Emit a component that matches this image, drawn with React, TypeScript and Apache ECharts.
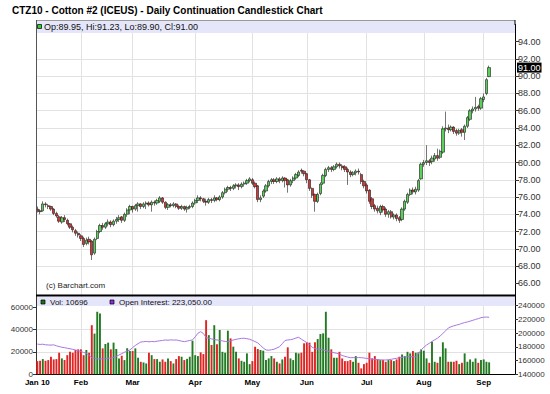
import React, { useEffect, useRef } from "react";
import * as echarts from "echarts";

// ---------- data ----------
const START_DATE = "2010-01-07";
const HOLIDAYS = ["2010-01-18", "2010-02-15", "2010-04-02", "2010-05-31", "2010-07-05", "2010-09-06"];
const TOTAL_SLOTS = 176; // trading days + empty space on the right
const MONTHS = ["Jan", "Feb", "Mar", "Apr", "May", "Jun", "Jul", "Aug", "Sep", "Oct", "Nov", "Dec"];

// [open, close, low, high]
const ohlc: number[][] = [
  [74.6, 74.4, 74.2, 74.9], [74.4, 74.3, 74.0, 74.6], [74.4, 75.2, 74.3, 75.5], [75.2, 75.1, 74.8, 75.4],
  [75.0, 74.9, 74.6, 75.2], [74.9, 74.6, 74.4, 75.0], [74.6, 74.1, 73.9, 74.7], [74.1, 73.8, 73.6, 74.3],
  [73.7, 73.2, 73.0, 73.9], [73.1, 73.6, 72.9, 73.8], [73.6, 73.4, 73.1, 73.9], [73.3, 72.9, 72.7, 73.5],
  [72.9, 72.5, 72.3, 73.0], [72.5, 72.2, 71.9, 72.7], [72.1, 71.8, 71.5, 72.3], [71.8, 71.6, 71.3, 72.0],
  [71.5, 71.2, 70.9, 71.7], [71.2, 70.5, 70.2, 71.4], [70.6, 71.0, 70.4, 71.3], [71.1, 70.8, 70.5, 71.4],
  [70.9, 69.3, 68.7, 71.0], [69.5, 71.1, 69.3, 71.3], [71.2, 72.0, 71.0, 72.2], [72.0, 72.7, 71.8, 72.9],
  [72.7, 72.5, 72.2, 73.0], [72.5, 72.9, 72.3, 73.1], [72.9, 73.1, 72.6, 73.4], [73.1, 72.8, 72.5, 73.3],
  [72.8, 73.2, 72.6, 73.4], [73.2, 73.4, 72.9, 73.7], [73.4, 73.6, 73.1, 73.9], [73.7, 73.3, 73.0, 73.8],
  [73.3, 74.0, 73.1, 74.2], [74.0, 74.5, 73.7, 74.7], [74.5, 74.9, 74.0, 75.1], [74.9, 74.6, 74.2, 75.0],
  [74.6, 75.0, 74.4, 75.2], [75.0, 75.2, 74.3, 75.4], [75.2, 74.9, 74.6, 75.3], [74.9, 75.2, 74.7, 75.4],
  [75.2, 75.3, 74.6, 75.5], [75.3, 75.1, 74.9, 75.5], [75.1, 75.4, 74.3, 75.6], [75.4, 75.3, 75.0, 75.6],
  [75.3, 75.6, 75.1, 75.8], [75.5, 75.9, 75.3, 76.1], [75.9, 75.4, 75.2, 76.0], [75.4, 74.8, 74.6, 75.5],
  [74.8, 75.1, 74.5, 75.3], [75.1, 75.0, 74.8, 75.3], [75.0, 75.2, 74.8, 75.4], [75.2, 74.9, 74.7, 75.3],
  [74.9, 74.7, 74.5, 75.1], [74.7, 74.9, 74.5, 75.1], [74.9, 74.6, 74.4, 75.0], [74.6, 74.8, 74.2, 75.0],
  [74.8, 74.9, 74.6, 75.1], [74.9, 75.3, 74.7, 75.5], [75.3, 75.6, 75.1, 75.8], [75.6, 75.9, 75.3, 76.2],
  [75.9, 75.8, 75.5, 76.1], [75.8, 75.5, 75.3, 75.9], [75.5, 75.4, 75.0, 75.8], [75.4, 75.7, 75.2, 75.9],
  [75.7, 75.6, 75.3, 75.9], [75.6, 75.9, 75.4, 76.2], [75.9, 75.7, 75.5, 76.0], [75.7, 76.0, 75.5, 76.2],
  [76.0, 76.5, 75.8, 76.7], [76.5, 76.9, 76.3, 77.1], [76.9, 77.1, 76.6, 77.3], [77.1, 77.0, 76.7, 77.3],
  [77.0, 77.3, 76.8, 77.5], [77.3, 77.4, 77.0, 77.6], [77.4, 77.2, 76.8, 77.6], [77.2, 77.5, 77.0, 77.7],
  [77.5, 77.6, 77.2, 77.8], [77.6, 77.9, 77.4, 78.1], [77.9, 78.1, 77.7, 78.3], [78.0, 77.6, 77.4, 78.2],
  [77.6, 77.2, 77.0, 77.8], [77.3, 75.7, 75.4, 77.4], [75.7, 75.9, 75.4, 76.2], [76.1, 76.7, 75.9, 76.9],
  [76.7, 77.3, 76.5, 77.5], [77.3, 77.8, 77.1, 78.0], [77.8, 78.0, 77.5, 78.2], [78.0, 77.8, 77.5, 78.2],
  [77.8, 78.1, 77.6, 78.3], [78.1, 77.9, 77.6, 78.3], [77.9, 78.2, 77.7, 78.4], [78.2, 77.9, 77.1, 78.3],
  [78.0, 77.4, 76.5, 78.1], [77.4, 77.9, 77.2, 78.1], [77.9, 78.2, 77.6, 78.4], [78.2, 78.6, 78.0, 78.8],
  [78.5, 78.9, 78.3, 79.1], [79.1, 79.0, 78.7, 79.3], [79.0, 78.7, 78.4, 79.1], [78.7, 78.0, 77.6, 78.8],
  [78.0, 77.0, 76.7, 78.1], [77.0, 76.2, 75.9, 77.1], [76.3, 75.5, 74.3, 76.4], [75.5, 76.3, 75.3, 76.5],
  [76.4, 77.5, 76.2, 77.7], [77.6, 78.5, 77.4, 78.7], [78.5, 79.2, 78.3, 79.4], [79.2, 79.4, 78.9, 79.6],
  [79.4, 79.2, 78.9, 79.6], [79.2, 79.5, 79.0, 79.7], [79.5, 79.8, 79.3, 80.0], [79.8, 79.6, 79.3, 80.0],
  [79.6, 79.4, 79.1, 79.8], [79.5, 79.2, 78.9, 79.7], [79.2, 78.9, 77.4, 79.4], [78.9, 78.6, 78.3, 79.1],
  [78.6, 78.8, 78.4, 79.0], [78.8, 79.0, 78.5, 79.2], [79.0, 78.9, 78.6, 79.3], [78.6, 77.8, 77.5, 78.8],
  [77.8, 77.3, 77.0, 78.0], [77.4, 76.7, 76.4, 77.6], [76.8, 75.5, 75.2, 76.9], [75.8, 74.9, 74.6, 76.0],
  [75.0, 74.6, 74.3, 75.2], [74.7, 74.4, 74.1, 75.0], [74.2, 74.9, 73.9, 75.1], [74.9, 74.5, 74.2, 75.1],
  [74.6, 74.0, 73.7, 74.8], [74.0, 74.3, 73.6, 74.5], [74.3, 73.7, 73.5, 74.5], [73.7, 73.9, 73.4, 74.1],
  [73.9, 73.5, 73.2, 74.1], [73.6, 73.3, 73.0, 73.8], [73.4, 74.6, 73.2, 74.8], [74.6, 75.5, 74.4, 75.7],
  [75.4, 76.3, 75.2, 76.5], [76.3, 76.8, 76.1, 77.0], [76.8, 76.6, 76.3, 77.1], [76.6, 76.9, 76.3, 77.2],
  [76.8, 77.9, 76.6, 78.1], [78.1, 79.8, 78.0, 80.0], [79.8, 80.0, 79.5, 80.3], [80.0, 80.2, 79.7, 82.0],
  [80.2, 80.0, 79.6, 80.4], [80.1, 80.5, 79.8, 80.8], [80.4, 80.8, 80.1, 81.1], [80.8, 80.5, 80.2, 81.6],
  [80.6, 81.3, 80.4, 81.5], [81.2, 83.9, 81.0, 84.2], [83.9, 84.0, 83.6, 85.9], [84.0, 83.8, 83.4, 84.4],
  [83.8, 84.1, 83.6, 84.3], [84.1, 83.6, 83.3, 84.2], [83.7, 83.4, 83.1, 83.9], [83.4, 83.7, 83.2, 83.9],
  [83.8, 83.5, 83.0, 84.0], [83.5, 84.2, 82.6, 84.4], [84.2, 85.2, 84.0, 85.4], [85.0, 86.0, 84.8, 86.2],
  [86.0, 86.2, 85.7, 86.5], [86.2, 86.4, 85.9, 87.6], [86.5, 86.3, 86.0, 86.7], [86.3, 87.4, 86.1, 87.6],
  [87.3, 87.6, 87.0, 88.0], [88.0, 89.6, 87.8, 89.8], [89.95, 91.0, 89.9, 91.23],
];

const volume: number[] = [
  11800, 12100, 13600, 12100, 12700, 15700, 13300, 13600, 19300, 14200, 12700, 17100, 20100, 19300, 21700, 22300,
  22300, 17100, 21700, 19300, 43900, 36400, 55900, 54400, 23200, 27100, 28300, 22300, 28300, 22600, 14200, 16600,
  12700, 23200, 20800, 20800, 23200, 14800, 11200, 10600, 9700, 19300, 17100, 13600, 13600, 11200, 13300, 11200,
  14200, 11800, 9700, 13600, 16300, 15700, 12700, 13800, 15700, 30000, 17100, 16300, 19600, 18100, 48400, 35000,
  26200, 43900, 26800, 39600, 20100, 19300, 39000, 32100, 24700, 20100, 14200, 12100, 11200, 18700, 9100, 11800,
  24700, 22600, 21700, 21100, 12700, 14200, 16300, 14200, 11200, 9700, 13300, 15700, 24100, 14200, 12700, 19300,
  18700, 19300, 27700, 28600, 28300, 20100, 28600, 31500, 36000, 36600, 55900, 32700, 22300, 14800, 14800, 20100,
  14200, 11800, 11800, 12700, 11200, 16300, 10300, 5300, 9100, 10300, 19300, 14200, 16300, 13300, 12700, 12700,
  11200, 12700, 12700, 11800, 13300, 15700, 17700, 16300, 20100, 18700, 20800, 19300, 19600, 22300, 21100, 14200,
  10300, 29200, 11200, 10300, 15700, 28600, 23200, 11200, 11200, 11200, 12100, 9100, 10300, 18700, 11200, 13300,
  11200, 14200, 10300, 12700, 13300, 11200, 10696,
];

const openInterest: number[] = [
  184000, 183500, 183800, 183000, 182700, 182500, 182900, 181500, 180400, 179400, 178800, 177900, 177200, 176300,
  175400, 174300, 173200, 171800, 170600, 167500, 164000, 163300, 162600, 162300, 162500, 162800, 163300, 163600,
  164500, 166200, 168100, 170000, 172100, 173800, 175400, 178900, 182000, 184600, 187000, 187500, 187900, 187300,
  187800, 187500, 188200, 188800, 189300, 190000, 189600, 190100, 189800, 190000, 189200, 188300, 187500, 188400,
  189300, 190000, 194500, 199800, 202100, 199400, 193500, 192500, 191500, 190600, 190000, 189300, 188600, 187800,
  187500, 188700, 190000, 190900, 191700, 192300, 192500, 191800, 191000, 189400, 187600, 185700, 182000, 178300,
  175400, 175100, 175700, 176500, 178400, 180200, 184600, 189200, 190000, 190400, 191300, 192800, 193900, 191200,
  188700, 186100, 183000, 179200, 177600, 176700, 176400, 175600, 174500, 173200, 172300, 171400, 170600, 169300,
  167400, 166200, 165100, 164200, 164300, 164100, 164400, 164200, 163800, 163100, 162500, 162000, 161700, 161400,
  161100, 160900, 160800, 161300, 161900, 162600, 163300, 163900, 164600, 165400, 165700, 165900, 165600, 165700,
  169500, 175600, 179300, 182600, 185200, 187800, 190200, 192600, 195800, 199500, 203300, 207400, 209200, 210600,
  211700, 212600, 214100, 215300, 216200, 217400, 218600, 219900, 221000, 222400, 223100, 223300, 223050,
];

const priceTicks = [66, 68, 70, 72, 74, 76, 78, 80, 82, 84, 86, 88, 90, 92, 94];
const volTicks = [0, 20000, 40000, 60000];
const oiTicks = [140000, 160000, 180000, 200000, 220000, 240000];
const lastClose = 91.0;
const quoteText = "Op:89.95, Hi:91.23, Lo:89.90, Cl:91.00";
const volText = "Vol: 10696";
const oiText = "Open Interest: 223,050.00";
const titleText = "CTZ10 - Cotton #2 (ICEUS) - Daily Continuation Candlestick Chart";

// ---------- helpers ----------
function tradingDays(start: string, n: number): string[] {
  const out: string[] = [];
  const d = new Date(start + "T00:00:00Z");
  while (out.length < n) {
    const dow = d.getUTCDay();
    const s = d.toISOString().slice(0, 10);
    if (dow !== 0 && dow !== 6 && !HOLIDAYS.includes(s)) out.push(s);
    d.setUTCDate(d.getUTCDate() + 1);
  }
  return out;
}

const FONT = 'Arial, "Liberation Sans", Helvetica, sans-serif';

export default function App() {
  const ref = useRef<HTMLDivElement>(null);

  useEffect(() => {
    document.body.style.margin = "0";
    if (!ref.current) return;
    const chart = echarts.init(ref.current, undefined, { renderer: "svg" });

    const cats = tradingDays(START_DATE, TOTAL_SLOTS);
    const labelMap: Record<string, string> = {};
    const monthStart = new Set<number>();
    cats.forEach((c, i) => {
      const m = parseInt(c.slice(5, 7), 10) - 1;
      const prev = i > 0 ? parseInt(cats[i - 1].slice(5, 7), 10) - 1 : -1;
      if (i === 0) {
        labelMap[c] = MONTHS[m] + " " + c.slice(2, 4);
        monthStart.add(i);
      } else if (m !== prev && i < ohlc.length) {
        labelMap[c] = MONTHS[m];
        monthStart.add(i);
      }
    });
    const showIdx = (idx: number) => monthStart.has(idx);

    const volData = volume.map((v, i) => ({
      value: v,
      itemStyle: { color: ohlc[i][1] >= ohlc[i][0] ? "#237a23" : "#e02424" },
    }));

    const gridLineColor = "#e2e2e2";

    const option: any = {
      animation: false,
      backgroundColor: "#fff",
      textStyle: { fontFamily: FONT },
      grid: [
        { left: 36, right: 35, top: 24.44, height: 276.12 },
        { left: 36, right: 35, top: 296, height: 78.3 },
      ],
      xAxis: [
        {
          type: "category",
          gridIndex: 0,
          data: cats,
          boundaryGap: true,
          axisLine: { show: false },
          axisTick: { show: false },
          axisLabel: { show: false },
          splitLine: {
            show: true,
            interval: (idx: number) => showIdx(idx) && idx > 0,
            alignWithLabel: true,
            lineStyle: { color: gridLineColor, width: 1 },
          },
        },
        {
          type: "category",
          gridIndex: 1,
          data: cats,
          boundaryGap: true,
          axisLine: { show: true, lineStyle: { color: "#000", width: 1 } },
          axisTick: { show: false },
          axisLabel: {
            show: true,
            interval: (idx: number) => showIdx(idx),
            formatter: (v: string) => labelMap[v] || "",
            fontSize: 8,
            fontWeight: "bold",
            color: "#000",
            margin: 4,
            fontFamily: FONT,
          },
          splitLine: {
            show: true,
            interval: (idx: number) => showIdx(idx) && idx > 0,
            alignWithLabel: true,
            lineStyle: { color: gridLineColor, width: 1 },
          },
        },
      ],
      yAxis: [
        {
          type: "value",
          gridIndex: 0,
          position: "right",
          min: 64,
          max: 96,
          interval: 2,
          axisLine: { show: true, lineStyle: { color: "#000" } },
          axisTick: { show: true, length: 4, customValues: priceTicks, lineStyle: { color: "#333" } },
          axisLabel: {
            show: true,
            customValues: priceTicks,
            formatter: (v: number) => v.toFixed(2),
            fontSize: 9,
            color: "#333",
            margin: 3,
            fontFamily: FONT,
          },
          splitLine: {
            show: true,
            showMinLine: false,
            showMaxLine: false,
            lineStyle: { color: gridLineColor, width: 1 },
          },
        },
        {
          type: "value",
          gridIndex: 1,
          position: "left",
          min: 0,
          max: 70000,
          interval: 20000,
          axisLine: { show: true, lineStyle: { color: "#333" } },
          axisTick: { show: true, length: 3, customValues: volTicks, lineStyle: { color: "#333" } },
          axisLabel: {
            customValues: volTicks,
            formatter: (v: number) => String(v),
            fontSize: 8,
            color: "#333",
            margin: 3,
            fontFamily: FONT,
          },
          splitLine: { show: true, showMaxLine: false, lineStyle: { color: gridLineColor, width: 1 } },
        },
        {
          type: "value",
          gridIndex: 1,
          position: "right",
          min: 140000,
          max: 254000,
          interval: 20000,
          axisLine: { show: true, lineStyle: { color: "#000" } },
          axisTick: { show: true, length: 3, customValues: oiTicks, lineStyle: { color: "#333" } },
          axisLabel: {
            customValues: oiTicks,
            formatter: (v: number) => String(v),
            fontSize: 8,
            color: "#333",
            margin: 3,
            fontFamily: FONT,
          },
          splitLine: { show: false },
        },
        {
          // overlay axis that only carries the last-price tag
          type: "value",
          gridIndex: 0,
          position: "right",
          min: 64,
          max: 96,
          interval: 2,
          axisLine: { show: false },
          axisTick: { show: false },
          splitLine: { show: false },
          axisLabel: {
            show: true,
            customValues: [lastClose],
            formatter: (v: number) => v.toFixed(2),
            fontSize: 9,
            color: "#fff",
            backgroundColor: "#000",
            padding: [1, 1, 0, 1],
            margin: 2,
            fontFamily: FONT,
          },
        },
      ],
      series: [
        {
          type: "candlestick",
          xAxisIndex: 0,
          yAxisIndex: 0,
          data: ohlc,
          barWidth: 2.8,
          z: 3,
          itemStyle: {
            color: "#5ad05a",
            color0: "#d43535",
            borderColor: "#1a1a1a",
            borderColor0: "#1a1a1a",
            borderWidth: 0.6,
          },
        },
        {
          type: "bar",
          xAxisIndex: 1,
          yAxisIndex: 1,
          data: volData,
          barWidth: "70%",
          z: 2,
        },
        {
          type: "line",
          xAxisIndex: 1,
          yAxisIndex: 2,
          data: openInterest,
          symbol: "none",
          z: 4,
          lineStyle: { color: "#a976e0", width: 1 },
        },
      ],
      graphic: [
        {
          type: "text",
          left: 12,
          top: 5,
          z: 10,
          style: { text: titleText, fontSize: 10, fontWeight: "bold", fill: "#000", fontFamily: FONT },
        },
        { type: "rect", shape: { x: 36, y: 20, width: 479, height: 13 }, style: { fill: "#e6e6fa" }, z: 1 },
        { type: "line", shape: { x1: 36, y1: 20.5, x2: 515, y2: 20.5 }, style: { stroke: "#999", lineWidth: 1 }, z: 5 },
        { type: "line", shape: { x1: 36.5, y1: 20, x2: 36.5, y2: 296 }, style: { stroke: "#555", lineWidth: 1 }, z: 5 },
        { type: "line", shape: { x1: 515, y1: 20, x2: 515, y2: 25 }, style: { stroke: "#000", lineWidth: 1 }, z: 5 },
        {
          type: "rect",
          shape: { x: 37.5, y: 24.5, width: 4, height: 4 },
          style: { fill: "#33cc33", stroke: "#000", lineWidth: 0.7 },
          z: 6,
        },
        {
          type: "text",
          x: 44,
          y: 27,
          z: 6,
          style: { text: quoteText, fontSize: 9, fill: "#111", fontFamily: FONT, verticalAlign: "middle" },
        },
        {
          type: "text",
          x: 46,
          y: 285,
          z: 6,
          style: { text: "(c) Barchart.com", fontSize: 8, fill: "#222", fontFamily: FONT, verticalAlign: "middle" },
        },
        { type: "line", shape: { x1: 36, y1: 295.5, x2: 515, y2: 295.5 }, style: { stroke: "#000", lineWidth: 2 }, z: 7 },
        { type: "rect", shape: { x: 37, y: 297, width: 478, height: 9 }, style: { fill: "#e6e6fa" }, z: 6 },
        {
          type: "rect",
          shape: { x: 41, y: 300, width: 4, height: 4 },
          style: { fill: "#1e6e1e", stroke: "#000", lineWidth: 0.7 },
          z: 7,
        },
        {
          type: "text",
          x: 50,
          y: 302,
          z: 7,
          style: { text: volText, fontSize: 8, fill: "#111", fontFamily: FONT, verticalAlign: "middle" },
        },
        {
          type: "rect",
          shape: { x: 110, y: 300, width: 4, height: 4 },
          style: { fill: "#8a2be2", stroke: "#000", lineWidth: 0.7 },
          z: 7,
        },
        {
          type: "text",
          x: 119,
          y: 302,
          z: 7,
          style: { text: oiText, fontSize: 8, fill: "#111", fontFamily: FONT, verticalAlign: "middle" },
        },
      ],
    };

    chart.setOption(option);
    return () => chart.dispose();
  }, []);

  return (
    <div
      ref={ref}
      style={{ position: "absolute", left: 0, top: 0, width: 550, height: 394, background: "#fff" }}
    />
  );
}
